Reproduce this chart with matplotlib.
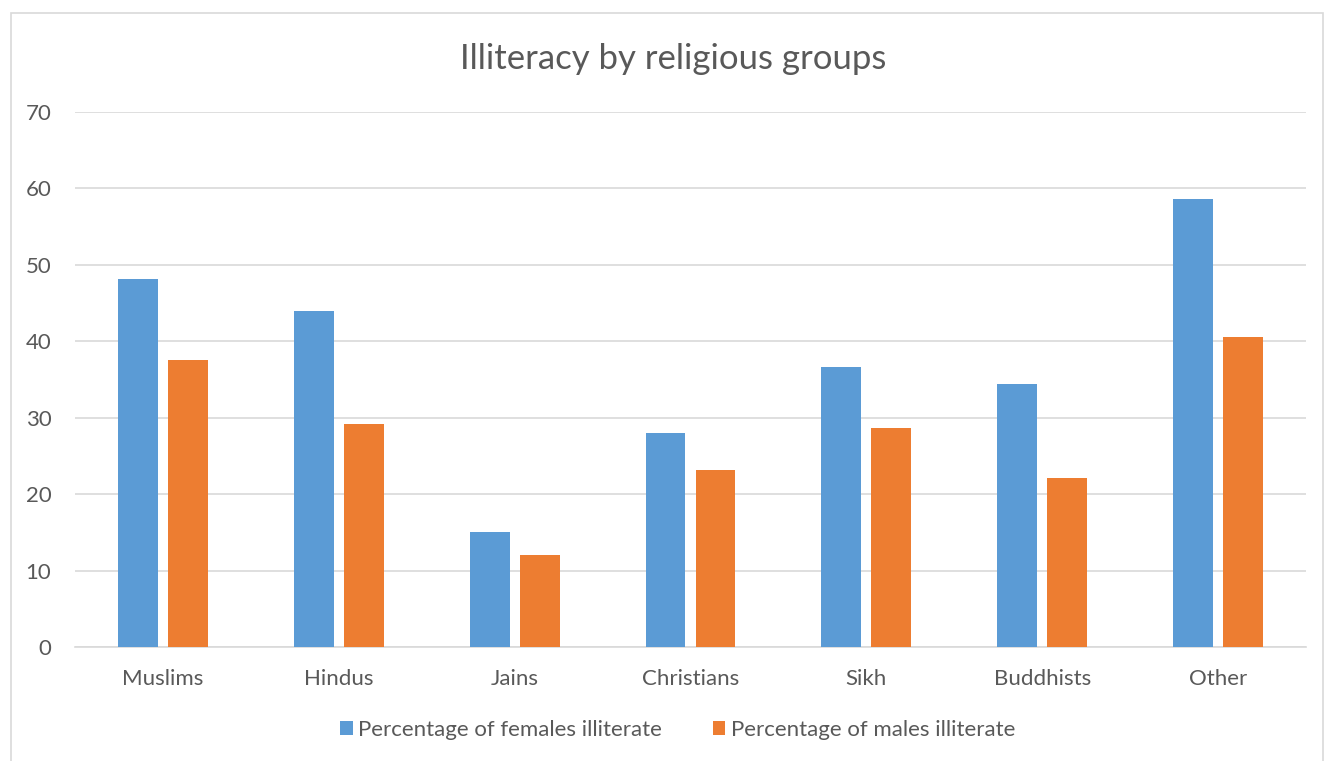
import numpy as np
import matplotlib
matplotlib.use("Agg")
import matplotlib.pyplot as plt
from matplotlib.patches import Rectangle

categories = ["Muslims", "Hindus", "Jains", "Christians", "Sikh", "Buddhists", "Other"]
females = [48.1, 44.0, 15.0, 28.0, 36.7, 34.4, 58.6]
males = [37.6, 29.2, 12.1, 23.2, 28.6, 22.1, 40.6]
series_names = ["Percentage of females illiterate", "Percentage of males illiterate"]

BLUE = "#5B9BD5"
ORANGE = "#ED7D31"
TXT = "#595959"

plt.rcParams["font.family"] = ["Lato", "DejaVu Sans"]

fig = plt.figure(figsize=(13.24, 7.61), dpi=100)
ax = fig.add_axes([75 / 1324, 1 - 647 / 761, (1306 - 75) / 1324, (647 - 112) / 761])

x = np.arange(len(categories))
w = 0.227
gap = 0.057
ax.bar(x - (w + gap) / 2, females, w, color=BLUE, label=series_names[0], zorder=3)
ax.bar(x + (w + gap) / 2, males, w, color=ORANGE, label=series_names[1], zorder=3)

ax.set_xlim(-0.5, len(categories) - 0.5)
ax.set_ylim(0, 70)
ax.set_yticks(range(0, 71, 10))
ax.set_xticks(x)
ax.set_xticklabels(categories)
ax.yaxis.grid(True, color="#D9D9D9", linewidth=1.2, zorder=0)
for s in ["top", "right", "left"]:
    ax.spines[s].set_visible(False)
ax.spines["bottom"].set_color("#D9D9D9")
ax.spines["bottom"].set_linewidth(1.2)
ax.tick_params(axis="both", length=0, labelsize=16, colors=TXT)
ax.tick_params(axis="y", pad=17)
ax.tick_params(axis="x", pad=16)

fig.text(0.5087, 1 - 59 / 761, "Illiteracy by religious groups", ha="center", va="center",
         fontsize=25, color=TXT)

fig.legend(loc="center", bbox_to_anchor=(0.512, 1 - 730 / 761), ncol=2, frameon=False,
           fontsize=16, labelcolor=TXT, handlelength=0.55, handleheight=0.55,
           handletextpad=0.25, columnspacing=2.3)

fig.patches.append(Rectangle((11 / 1324, -0.01), 1 - 12 / 1324, 1 - 13 / 761 + 0.01,
                             transform=fig.transFigure, fill=False,
                             edgecolor="#D9D9D9", linewidth=1.2))

fig.savefig("out.png", dpi=100)
